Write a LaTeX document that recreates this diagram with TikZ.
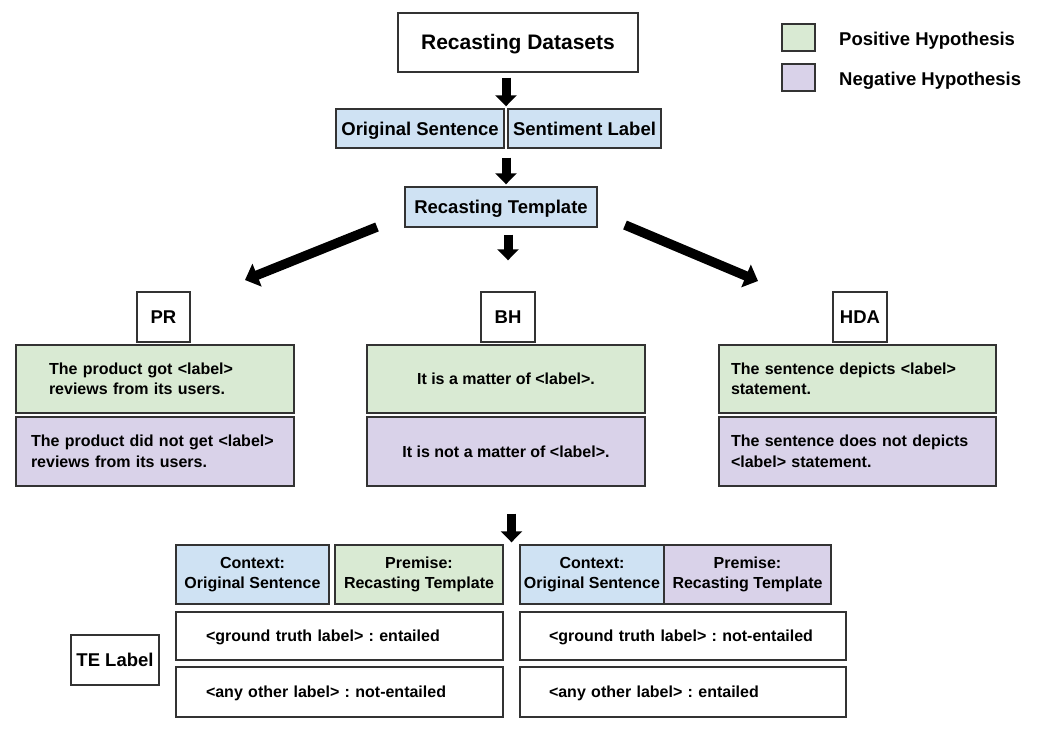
\documentclass[tikz,border=0pt]{standalone}
\usepackage{fontspec}
\setmainfont{Liberation Sans}
\usetikzlibrary{arrows.meta,calc}
\definecolor{cblue}{HTML}{CFE2F3}
\definecolor{cgreen}{HTML}{D9EAD3}
\definecolor{cpurple}{HTML}{D9D2E9}
\definecolor{cline}{HTML}{333333}
\tikzset{
  every node/.style={font=\bfseries},
  box/.style={draw=cline, line width=1.4pt, inner sep=0pt, rectangle},
  fbig/.style={font=\bfseries\fontsize{21}{24}\selectfont, text height=15pt, text depth=0pt},
  fmid/.style={font=\bfseries\fontsize{18.5}{22}\selectfont, text height=13.2pt, text depth=0pt},
  fsml/.style={font=\bfseries\fontsize{16}{20.5}\selectfont},
  one/.style={text height=11.5pt, text depth=0pt},
  downarr/.style={line width=9pt, -{Triangle[width=21pt,length=11pt]}},
  diagarr/.style={line width=9.5pt, -{Triangle[width=24pt,length=13pt]}},
}
\begin{document}
\frenchspacing
\begin{tikzpicture}[x=1pt,y=-1pt]
\useasboundingbox (0,0) rectangle (1043,738);
\fill[white] (0,0) rectangle (1043,738);

% top chain
\node[box, fbig, minimum width=240pt, minimum height=59pt] (ds) at (518,42.5) {Recasting Datasets};
\node[box, fmid, fill=cblue, minimum width=168pt, minimum height=39pt] (os) at (420,128.5) {Original Sentence};
\node[box, fmid, fill=cblue, minimum width=153pt, minimum height=39pt] (sl) at (584.5,128.5) {Sentiment Label};
\node[box, fmid, fill=cblue, minimum width=192pt, minimum height=40pt] (rt) at (501,207) {Recasting Template};

% legend
\node[box, fill=cgreen, minimum width=33pt, minimum height=27pt] (lg) at (798.5,37.5) {};
\node[box, fill=cpurple, minimum width=33pt, minimum height=27pt] (lp) at (798.5,77.5) {};
\node[fmid, anchor=west, inner sep=0pt] (lgt) at (839,38.5) {Positive Hypothesis};
\node[fmid, anchor=west, inner sep=0pt] (lpt) at (839,78.5) {Negative Hypothesis};

% template names
\node[box, fmid, minimum width=53pt, minimum height=50pt] (pr) at (163.5,317) {PR};
\node[box, fmid, minimum width=54pt, minimum height=50pt] (bh) at (508,317) {BH};
\node[box, fmid, minimum width=54pt, minimum height=50pt] (hda) at (860,317) {HDA};

% hypotheses
\node[box, fsml, fill=cgreen, minimum width=278pt, minimum height=68pt, inner xsep=33pt, text width=212pt, align=left] (prp) at (155,379) {The product got <label>\\reviews from its users.};
\node[box, fsml, fill=cpurple, minimum width=278pt, minimum height=69pt, inner xsep=15pt, text width=248pt, align=left] (prn) at (155,451.5) {The product did not get <label>\\reviews from its users.};
\node[box, fsml, one, fill=cgreen, minimum width=278pt, minimum height=68pt, align=center] (bhp) at (506,379) {It is a matter of <label>.};
\node[box, fsml, one, fill=cpurple, minimum width=278pt, minimum height=69pt, align=center] (bhn) at (506,451.5) {It is not a matter of <label>.};
\node[box, fsml, fill=cgreen, minimum width=277pt, minimum height=68pt, inner xsep=12pt, text width=253pt, align=left] (hdap) at (857.5,379) {The sentence depicts <label>\\statement.};
\node[box, fsml, fill=cpurple, minimum width=277pt, minimum height=69pt, inner xsep=12pt, text width=253pt, align=left] (hdan) at (857.5,451.5) {The sentence does not depicts\\<label> statement.};

% bottom part
\node[box, fsml, fill=cblue, minimum width=153pt, minimum height=59pt, align=center] (cl) at (252.5,574.5) {Context:\\Original Sentence};
\node[box, fsml, fill=cgreen, minimum width=168pt, minimum height=59pt, align=center] (pl) at (419,574.5) {Premise:\\Recasting Template};
\node[box, fsml, fill=cblue, minimum width=144pt, minimum height=59pt, align=center] (cr) at (592,574.5) {Context:\\Original Sentence};
\node[box, fsml, fill=cpurple, minimum width=167pt, minimum height=59pt, align=center] (prr) at (747.5,574.5) {Premise:\\Recasting Template};

\node[box, fsml, one, minimum width=327pt, minimum height=48pt, inner xsep=30pt, text width=267pt, align=left] (el1) at (339.5,636) {<ground truth label> : entailed};
\node[box, fsml, one, minimum width=327pt, minimum height=50pt, inner xsep=30pt, text width=267pt, align=left] (el2) at (339.5,692) {<any other label> : not-entailed};
\node[box, fsml, one, minimum width=326pt, minimum height=48pt, inner xsep=29pt, text width=268pt, align=left] (er1) at (683,636) {<ground truth label> : not-entailed};
\node[box, fsml, one, minimum width=326pt, minimum height=50pt, inner xsep=29pt, text width=268pt, align=left] (er2) at (683,692) {<any other label> : entailed};

\node[box, fmid, minimum width=88pt, minimum height=50pt] (te) at (115,660) {TE Label};

% arrows
\coordinate (g1) at ($(os.north east)!0.5!(sl.north west)$);
\coordinate (g2) at ($(os.south east)!0.5!(sl.south west)$);
\coordinate (g3) at ($(pl.north east)!0.5!(cr.north west)$);
\draw[downarr, shorten <=5pt, shorten >=2pt] (g1 |- ds.south) -- (g1);
\draw[downarr, shorten <=9pt, shorten >=2pt] (g2) -- (g2 |- rt.north);
\draw[downarr, shorten <=7pt, shorten >=31pt] (bh.north |- rt.south) -- (bh.north);
\draw[downarr, shorten <=27pt, shorten >=2pt] (g3 |- bhn.south) -- (g3);

\coordinate (l1) at (377,227);
\coordinate (l2) at (245,280);
\coordinate (r1) at (625,225);
\coordinate (r2) at (758,281);
\draw[diagarr] (l1) -- (l2);
\draw[diagarr] (r1) -- (r2);
\end{tikzpicture}
\end{document}
